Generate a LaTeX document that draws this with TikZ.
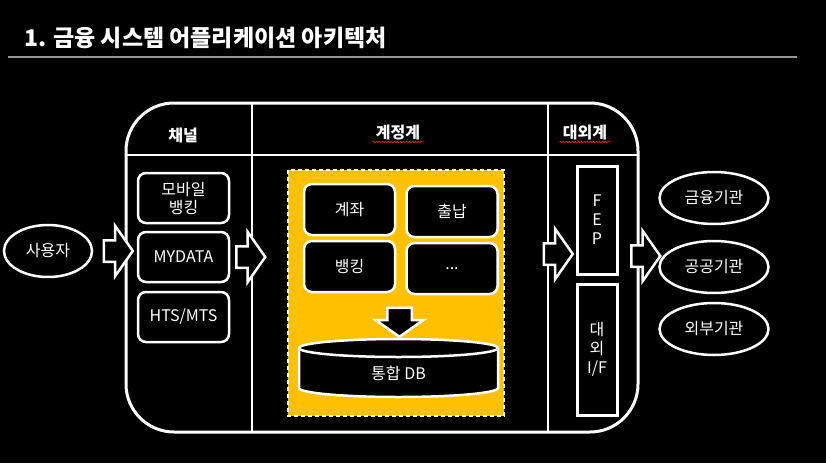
\documentclass[tikz,border=0pt]{standalone}
\usepackage{fontspec}
\setmainfont{Noto Sans CJK KR}
\usetikzlibrary{shapes.geometric, shapes.arrows, decorations.pathmorphing}
\definecolor{myyellow}{RGB}{255, 192, 0}
\definecolor{mygray}{RGB}{150, 150, 150}
\tikzset{
    boxfont/.style={text=white, font=\fontsize{16}{18}\selectfont},
    modbox/.style={boxfont, draw=white, fill=black, line width=2.5pt, rounded corners=8pt,
        minimum width=91pt, minimum height=50pt, align=center, inner sep=0pt},
    ifbox/.style={boxfont, draw=white, fill=black, line width=3pt, minimum width=40pt,
        align=center, inner sep=0pt, font=\fontsize{16}{19}\selectfont},
    party/.style={boxfont, ellipse, draw=white, fill=black, line width=2.5pt,
        minimum width=109pt, minimum height=52pt, inner sep=0pt},
    hdr/.style={text=white, font=\fontsize{16}{18}\selectfont\bfseries},
    blockarr/.style={single arrow, draw=white, fill=black, line width=2.5pt,
        minimum height=29pt, inner xsep=0pt, inner ysep=9.5pt,
        single arrow head extend=14.5pt, single arrow tip angle=110},
    spellcheck/.style={red, line width=0.6pt, decorate,
        decoration={snake, amplitude=0.8pt, segment length=3pt}}
}

\begin{document}
\begin{tikzpicture}[x=1pt, y=-1pt]
    % canvas, same size as the slide
    \fill[black] (0, 0) rectangle (826, 463);
    \useasboundingbox (0, 0) rectangle (826, 463);

    % ----------------------------------------------------
    % Title
    % ----------------------------------------------------
    \node[anchor=west, text=white, inner sep=0pt, font=\fontsize{23}{25}\selectfont\bfseries]
        (title) at (24, 38) {1. 금융 시스템 어플리케이션 아키텍처};
    \draw[mygray, line width=1.5pt] (8, 57) -- (797, 57);

    % ----------------------------------------------------
    % Outer frame with three columns
    % ----------------------------------------------------
    \draw[white, line width=3pt, rounded corners=48pt] (126, 103) rectangle (638, 432);
    \draw[white, line width=1.2pt] (126, 155) -- (638, 155);
    \draw[white, line width=1.2pt] (252, 103) -- (252, 432);
    \draw[white, line width=1.2pt] (548, 103) -- (548, 432);

    \node[hdr] (hdchan) at (183, 135) {채널};
    \node[hdr] (hdacct) at (398, 133) {계정계};
    \node[hdr] (hdext) at (585, 133) {대외계};
    \draw[spellcheck] ([yshift=-3pt]hdacct.base west) -- ([yshift=-3pt]hdacct.base east);
    \draw[spellcheck] ([yshift=-3pt]hdext.base west) -- ([yshift=-3pt]hdext.base east);

    % ----------------------------------------------------
    % User and channels
    % ----------------------------------------------------
    \node[party, minimum width=88pt] (user) at (48, 251) {사용자};

    \node[modbox] (mobile) at (183.5, 198) {모바일\\뱅킹};
    \node[modbox] (mydata) at (183.5, 257) {MYDATA};
    \node[modbox] (hts) at (183.5, 317) {HTS/MTS};

    \node[blockarr] (arrin) at (114.5, 251) {};
    \node[blockarr] (arrchan) at (247, 257) {};

    % ----------------------------------------------------
    % Core banking (yellow area)
    % ----------------------------------------------------
    \fill[myyellow] (288, 170) rectangle (504, 416);
    \draw[white, line width=2pt, dash pattern=on 4pt off 3pt] (288, 170) rectangle (504, 416);

    \node[modbox, minimum height=51pt] (acct) at (349.5, 209.5) {계좌};
    \node[modbox, minimum height=51pt] (cash) at (452, 211.5) {출납};
    \node[modbox, minimum height=51pt] (bank) at (349.5, 266.5) {뱅킹};
    \node[modbox, minimum height=51pt] (etc) at (452, 268.5) {...};

    \node[blockarr, rotate=-90, inner ysep=11pt, single arrow head extend=11.5pt]
        (arrdb) at (399.5, 318) {};

    % integrated DB cylinder
    \fill[black] (299, 348) -- (299, 388)
        arc[start angle=180, end angle=0, x radius=99.5, y radius=9] -- (498, 348) -- cycle;
    \draw[white, line width=2.5pt] (299, 348) -- (299, 388)
        arc[start angle=180, end angle=0, x radius=99.5, y radius=9] -- (498, 348);
    \draw[white, fill=black, line width=2.5pt] (398.5, 348) ellipse[x radius=99.5, y radius=9];
    \node[boxfont] (db) at (398.5, 373) {통합 DB};

    % ----------------------------------------------------
    % External interfaces and partners
    % ----------------------------------------------------
    \node[blockarr] (arrext) at (554.5, 254) {};

    \node[ifbox, minimum height=108pt] (fep) at (597, 220) {F\\E\\P};
    \node[ifbox, minimum height=131pt] (extif) at (597, 349.5) {대\\외\\I/F};

    \node[blockarr] (arrout) at (642, 256) {};

    \node[party] (finorg) at (714, 198) {금융기관};
    \node[party] (puborg) at (714, 267) {공공기관};
    \node[party] (othorg) at (714, 329) {외부기관};

\end{tikzpicture}
\end{document}
